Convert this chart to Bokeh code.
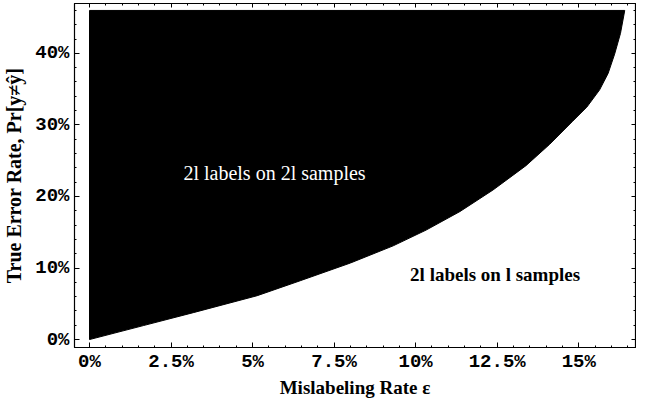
from bokeh.plotting import figure
from bokeh.models import Range1d, FixedTicker, Label, LinearAxis
from bokeh.embed import file_html
from bokeh.resources import INLINE

# boundary curve (percent units)
eps_pct = [0.0, 1.65, 3.18, 5.14, 6.46, 8.0, 9.31, 10.32, 11.36, 12.37, 13.38,
           14.11, 14.81, 15.25, 15.64, 15.90, 16.10, 16.28, 16.41]
err_pct = [0.0, 1.95, 3.76, 6.13, 8.22, 10.7, 13.1, 15.3, 17.9, 20.9, 24.3,
           27.3, 30.5, 32.5, 34.9, 37.2, 39.9, 42.8, 46.0]
region_top = 46.0

x_ticks = [0, 2.5, 5, 7.5, 10, 12.5, 15]
x_labels = ["0%", "2.5%", "5%", "7.5%", "10%", "12.5%", "15%"]
y_ticks = [0, 10, 20, 30, 40]
y_labels = ["0%", "10%", "20%", "30%", "40%"]
x_minor = [i * 0.5 for i in range(-1, 34)]
y_minor = [i * 2.0 for i in range(0, 24)]

label_inside = "2l labels on 2l samples"
label_outside = "2l labels on l samples"

p = figure(width=636, height=400, output_backend="svg", toolbar_location=None,
           x_range=Range1d(-0.46, 16.74), y_range=Range1d(-1.11, 46.97),
           min_border_left=73, min_border_right=1, min_border_top=3,
           min_border_bottom=51)
p.background_fill_color = "white"
p.border_fill_color = "white"
p.outline_line_color = "black"
p.outline_line_width = 1.2
p.xgrid.visible = False
p.ygrid.visible = False

xs = eps_pct + [0.0]
ys = err_pct + [region_top]
p.patch(xs, ys, fill_color="black", line_color="black", line_width=1)

serif = "Liberation Serif"
mono = "Liberation Mono"

for ax in (p.xaxis[0], p.yaxis[0]):
    ax.major_tick_in = 5
    ax.major_tick_out = 0
    ax.minor_tick_in = 2
    ax.minor_tick_out = 0
    ax.major_label_text_font = mono
    ax.major_label_text_font_style = "bold"
    ax.major_label_text_font_size = "19px"
    ax.major_label_text_color = "black"
    ax.axis_label_text_font = serif
    ax.axis_label_text_font_style = "bold"
    ax.axis_label_text_font_size = "19px"
    ax.axis_label_text_color = "black"
    ax.axis_line_color = "black"
    ax.major_label_standoff = 5

p.xaxis[0].ticker = FixedTicker(ticks=x_ticks, minor_ticks=x_minor)
p.xaxis[0].major_label_overrides = dict(zip(x_ticks, x_labels))
p.xaxis[0].major_label_standoff = 3
p.xaxis[0].axis_label = "Mislabeling Rate \u03b5"
p.xaxis[0].axis_label_standoff = 1
p.yaxis[0].ticker = FixedTicker(ticks=y_ticks, minor_ticks=y_minor)
p.yaxis[0].major_label_overrides = dict(zip(y_ticks, y_labels))
p.yaxis[0].axis_label = "True Error Rate, Pr[y\u2260\u0177]"
p.yaxis[0].axis_label_standoff = 7
p.yaxis[0].axis_label_text_font_size = "20px"

# frame ticks on the top and right edges, as in the reference
top_ax = LinearAxis(ticker=FixedTicker(ticks=x_ticks, minor_ticks=x_minor),
                    major_label_text_font_size="0px", major_label_standoff=0,
                    major_tick_in=4, major_tick_out=0,
                    minor_tick_in=2, minor_tick_out=0, axis_line_color="black")
right_ax = LinearAxis(ticker=FixedTicker(ticks=y_ticks, minor_ticks=y_minor),
                      major_label_text_font_size="0px", major_label_standoff=0,
                      major_tick_in=4, major_tick_out=0,
                      minor_tick_in=2, minor_tick_out=0, axis_line_color="black")
p.add_layout(top_ax, "above")
p.add_layout(right_ax, "right")

p.add_layout(Label(x=2.88, y=23.3, text=label_inside, text_color="white",
                   text_font=serif, text_font_size="20px", text_baseline="middle",
                   text_align="left"))
p.add_layout(Label(x=9.83, y=9.06, text=label_outside, text_color="black",
                   text_font=serif, text_font_style="bold", text_font_size="19px",
                   text_baseline="middle", text_align="left"))

open("out.html", "w").write(file_html(p, INLINE))
